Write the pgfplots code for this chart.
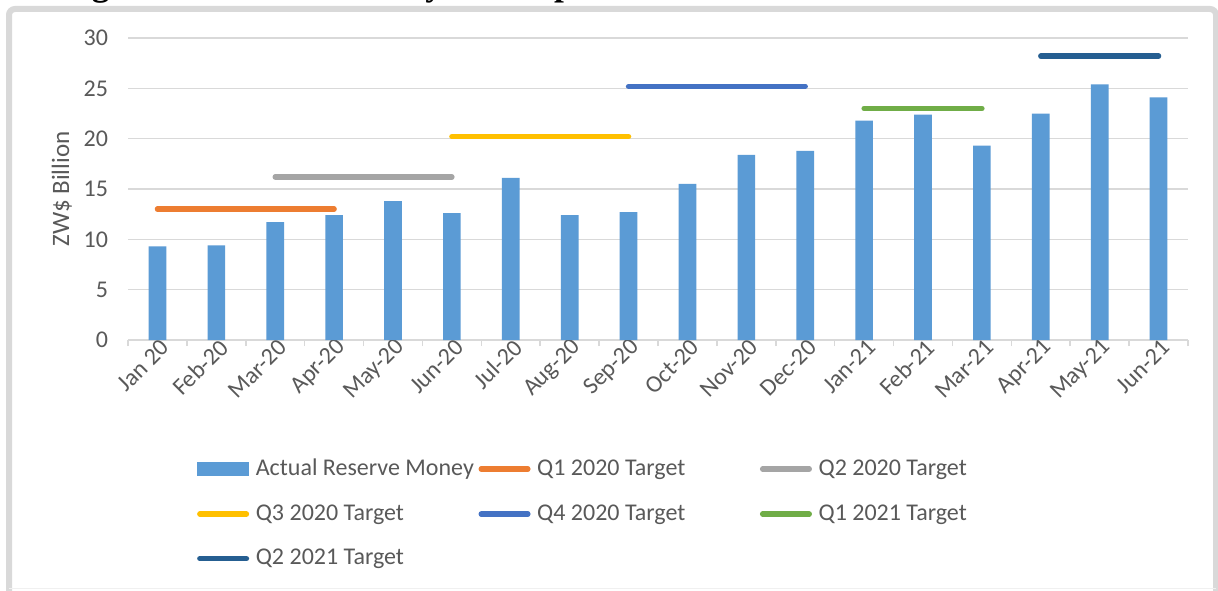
\documentclass[border=0pt]{standalone}
\usepackage{fontspec}
\setmainfont{Carlito}
\newfontfamily\titlefont{Liberation Serif}
\usepackage{pgfplots}
\pgfplotsset{compat=1.18}

\definecolor{barblue}{HTML}{5B9BD5}
\definecolor{qone}{HTML}{ED7D31}
\definecolor{qtwo}{HTML}{A5A5A5}
\definecolor{qthree}{HTML}{FFC000}
\definecolor{qfour}{HTML}{4472C4}
\definecolor{qfive}{HTML}{70AD47}
\definecolor{qsix}{HTML}{255E91}
\definecolor{textgray}{HTML}{595959}
\definecolor{gridgray}{HTML}{D9D9D9}

\newcommand{\lentry}[1]{\makebox[108pt][l]{#1}}

\pgfplotsset{
  tgt/.style={color=#1, line width=2.7pt, line cap=round, mark=none,
    legend image code/.code={\path (0pt,0pt) (26pt,0pt);
      \draw[#1, line width=2.7pt, line cap=round] (1.35pt,0pt) -- (24.65pt,0pt);}},
}

\begin{document}
\begin{tikzpicture}
\path[use as bounding box, clip] (0,0) rectangle (609pt,295pt);
\fill[white] (0,0) rectangle (609pt,295pt);
% title of the page, mostly cut off at the top
\node[anchor=base west, inner sep=0pt,
      font=\titlefont\bfseries\fontsize{17.7}{19}\selectfont]
  at (30pt,297.2pt) {Figure 3: Reserve Money Developments};
% chart frame
\draw[gridgray, line width=3pt, rounded corners=3pt]
  (4.5pt,-10pt) -- (4.5pt,290.5pt) -- (608pt,290.5pt) -- (608pt,-10pt);
\draw[gridgray!40, line width=0.5pt] (4.5pt,0.6pt) -- (608pt,0.6pt);

\begin{axis}[
  at={(64pt,125pt)}, anchor=south west,
  scale only axis, width=530pt, height=151pt,
  xmin=-0.5, xmax=17.5, ymin=0, ymax=30,
  font=\fontsize{12}{14}\selectfont,
  /pgf/number format/assume math mode=true,
  every tick label/.append style={text=textgray},
  ytick={0,5,...,30},
  yticklabel style={xshift=-6.5pt},
  xtick={0,...,17},
  xticklabels={Jan 20,Feb-20,Mar-20,Apr-20,May-20,Jun-20,Jul-20,Aug-20,Sep-20,
               Oct-20,Nov-20,Dec-20,Jan-21,Feb-21,Mar-21,Apr-21,May-21,Jun-21},
  xticklabel style={rotate=45, anchor=east, inner sep=1pt, xshift=2.5pt, yshift=-4pt},
  major tick length=0pt,
  minor xtick={-0.5,0.5,...,17.5},
  minor tick length=3pt,
  minor tick style={gridgray, line width=0.75pt},
  tick align=outside,
  ymajorgrids,
  grid style={gridgray, line width=0.75pt},
  axis x line*=bottom, axis y line*=left,
  x axis line style={gridgray, line width=0.75pt},
  y axis line style={draw=none},
  ylabel={ZW\$ Billion},
  ylabel style={at={(axis description cs:-0.0623,0.5)}, anchor=center, text=textgray,
                font=\fontsize{12.5}{14}\selectfont},
  legend columns=3,
  legend cell align=left,
  legend style={at={(0.0623,-0.38)}, anchor=north west, draw=none, fill=none,
    inner sep=0pt, row sep=9pt, column sep=0pt,
    nodes={inner xsep=2pt, inner ysep=2pt, text=textgray}},
  clip=false,
]

\addplot[ybar, bar width=0.3, fill=barblue, draw=none,
  legend image code/.code={\path (0pt,0pt) (26pt,0pt);
    \fill[barblue] (0pt,-3.5pt) rectangle (26pt,3.5pt);}]
  coordinates {(0,9.3) (1,9.4) (2,11.7) (3,12.4) (4,13.8) (5,12.6) (6,16.1) (7,12.4)
               (8,12.7) (9,15.5) (10,18.4) (11,18.8) (12,21.8) (13,22.4) (14,19.3)
               (15,22.5) (16,25.4) (17,24.1)};
\addlegendentry{\lentry{Actual Reserve Money}}

\addplot[tgt=qone] coordinates {(0,13.0) (3,13.0)};
\addlegendentry{\lentry{Q1 2020 Target}}
\addplot[tgt=qtwo] coordinates {(2,16.2) (5,16.2)};
\addlegendentry{\lentry{Q2 2020 Target}}
\addplot[tgt=qthree] coordinates {(5,20.2) (8,20.2)};
\addlegendentry{\lentry{Q3 2020 Target}}
\addplot[tgt=qfour] coordinates {(8,25.2) (11,25.2)};
\addlegendentry{\lentry{Q4 2020 Target}}
\addplot[tgt=qfive] coordinates {(12,23.0) (14,23.0)};
\addlegendentry{\lentry{Q1 2021 Target}}
\addplot[tgt=qsix] coordinates {(15,28.2) (17,28.2)};
\addlegendentry{\lentry{Q2 2021 Target}}

\end{axis}
\end{tikzpicture}
\end{document}
